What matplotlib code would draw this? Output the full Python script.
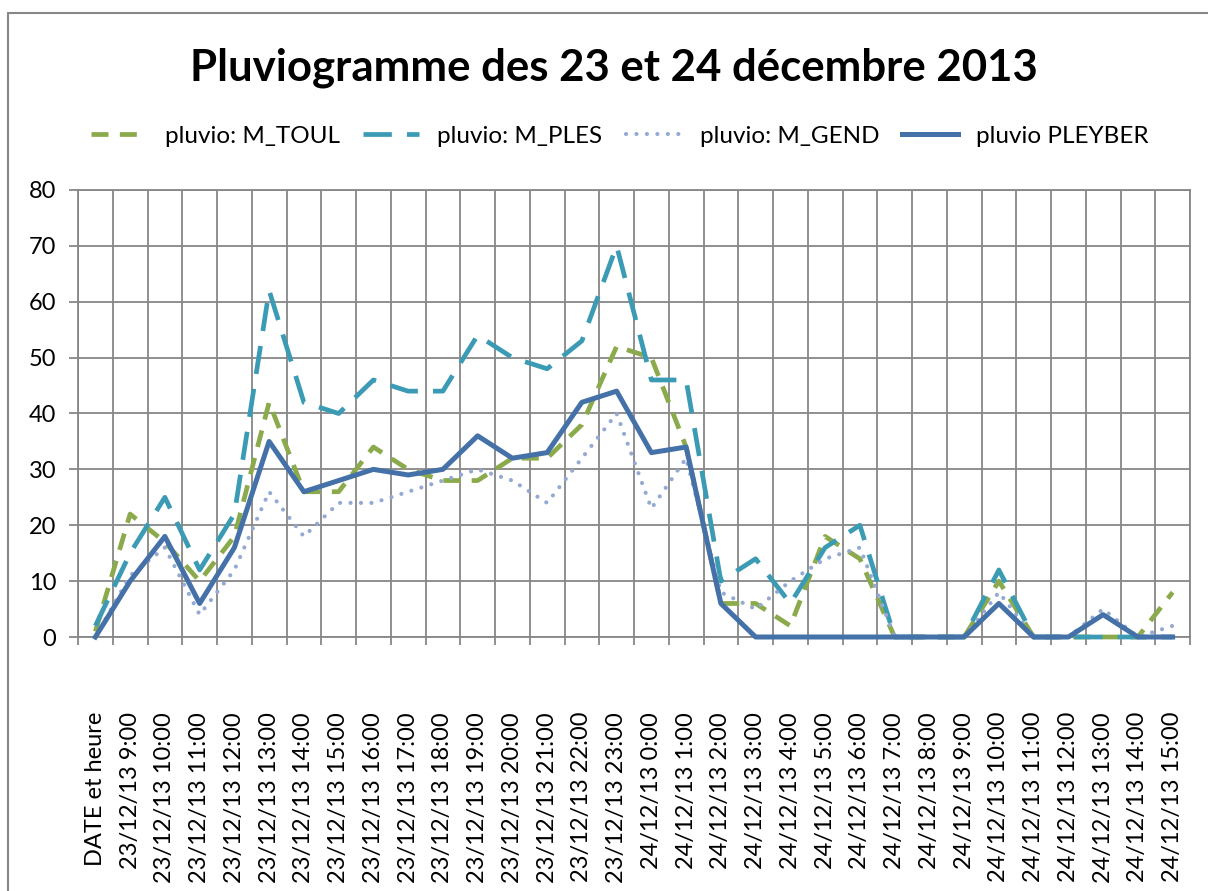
import matplotlib
matplotlib.use("Agg")
import matplotlib.pyplot as plt
from matplotlib.patches import Rectangle
import numpy as np

plt.rcParams['font.family'] = ['Lato', 'DejaVu Sans']

# catégories (axe horizontal)
categories = ["DATE et heure"] + \
    ["23/12/13 %d:00" % h for h in range(9, 24)] + \
    ["24/12/13 %d:00" % h for h in range(0, 16)]

# séries (mm)
m_toul = [1, 22, 17, 10, 18, 42, 26, 26, 34, 30, 28, 28, 32, 32, 38, 52,
          50, 34, 6, 6, 2, 18, 14, 0, 0, 0, 10, 0, 0, 0, 0, 8]
m_ples = [2, 15, 25, 12, 22, 62, 42, 40, 46, 44, 44, 54, 50, 48, 53, 70,
          46, 46, 10, 14, 6, 16, 20, 0, 0, 0, 12, 0, 0, 0, 0, 0]
m_gend = [0, 11, 16, 4, 12, 26, 18, 24, 24, 26, 28, 30, 28, 24, 32, 40,
          23, 32, 8, 5, 10, 14, 16, 0, 0, 0, 8, 0, 0, 5, 0, 2]
pleyber = [0, 10, 18, 6, 16, 35, 26, 28, 30, 29, 30, 36, 32, 33, 42, 44,
           33, 34, 6, 0, 0, 0, 0, 0, 0, 0, 6, 0, 0, 4, 0, 0]

grid_col = "#878787"

fig = plt.figure(figsize=(12.08, 8.91), dpi=100)
ax = fig.add_axes([78 / 1208, 1 - 637 / 891, (1190 - 78) / 1208, (637 - 190) / 891])

x = np.arange(len(categories))
ax.plot(x, m_toul, color="#8BAA4B", lw=3.4, dashes=(3.6, 2.4), label="pluvio: M_TOUL",
        clip_on=False, zorder=3)
ax.plot(x, m_ples, color="#3B9BB5", lw=3.4, dashes=(6, 3.2), label="pluvio: M_PLES",
        clip_on=False, zorder=3)
ax.plot(x, m_gend, color="#94A9D3", lw=3.0, linestyle=(0, (0.01, 2.5)),
        dash_capstyle="round", label="pluvio: M_GEND", clip_on=False, zorder=3)
ax.plot(x, pleyber, color="#4571A9", lw=3.6, label="pluvio PLEYBER",
        clip_on=False, zorder=4)

ax.set_xlim(-0.5, len(categories) - 0.5)
ax.set_ylim(0, 80)
ax.set_yticks(np.arange(0, 81, 10))
ax.set_xticks(x)
ax.set_xticklabels(categories, rotation=90, va="top", ha="center")
ax.set_xticks(np.arange(-0.5, len(categories), 1), minor=True)

ax.tick_params(axis="x", which="major", length=0, pad=54, labelsize=17)
ax.tick_params(axis="x", which="minor", length=6, width=1.3, color=grid_col)
ax.tick_params(axis="y", length=6.5, width=1.3, color=grid_col, pad=9, labelsize=17)

ax.grid(True, which="minor", axis="x", color=grid_col, lw=1.3)
ax.grid(True, which="major", axis="y", color=grid_col, lw=1.3)
ax.set_axisbelow(True)
for s in ax.spines.values():
    s.set_color(grid_col)
    s.set_linewidth(1.3)

fig.text(614 / 1208, 1 - 68 / 891, "Pluviogramme des 23 et 24 décembre 2013",
         ha="center", va="center", fontsize=31.5, fontweight="bold")

fig.legend(loc="center", bbox_to_anchor=(620 / 1208, 1 - 136 / 891), ncol=4,
           frameon=False, fontsize=17.5, handlelength=2.3, handletextpad=0.75,
           columnspacing=0.95)

# cadre de la zone de graphique
fig.add_artist(Rectangle((8 / 1208, -0.1), 1.2, 1.1 - 13 / 891,
                         transform=fig.transFigure, fill=False,
                         edgecolor=grid_col, lw=1.5))

fig.savefig("out.png", dpi=100)
